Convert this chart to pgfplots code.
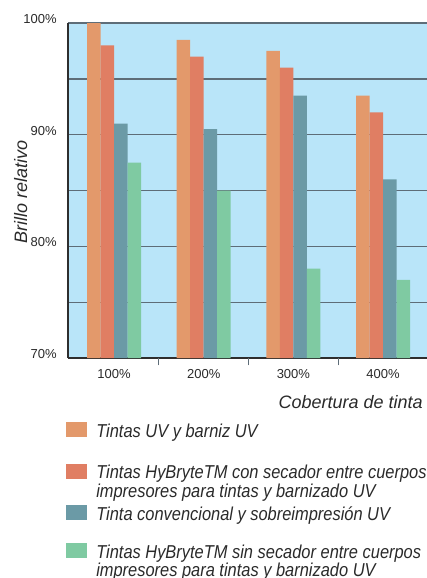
\documentclass[border=0pt]{standalone}
\usepackage{pgfplots}
\pgfplotsset{compat=1.18}
\usepackage{fontspec}
\setmainfont{Liberation Sans}
\newfontfamily\cond[FakeStretch=0.88]{Liberation Sans}
\definecolor{bg}{HTML}{B9E5F9}
\definecolor{cO}{HTML}{E3996B}
\definecolor{cR}{HTML}{E07E63}
\definecolor{cT}{HTML}{6B9AA6}
\definecolor{cG}{HTML}{7FCAA2}
\definecolor{gridc}{HTML}{5E6D78}
\definecolor{axc}{HTML}{2E2E2E}
\definecolor{txt}{HTML}{2A2A2A}
\begin{document}
\begin{tikzpicture}[x=0.75pt,y=-0.75pt]
\begin{axis}[
  at={(51pt,-268.5pt)}, anchor=south west,
  scale only axis, width=269.25pt, height=251.25pt,
  xmin=-0.513, xmax=3.49, ymin=70, ymax=100,
  axis x line=bottom, axis y line=left,
  axis line style={-, axc, line width=1.5pt},
  axis background/.style={fill=bg},
  ytick={70,75,...,100},
  yticklabels={70\%,,80\%,,90\%,,100\%},
  ymajorgrids, grid style={gridc, line width=1pt},
  major tick length=0pt,
  xtick={0,1,2,3},
  xticklabels={100\%,200\%,300\%,400\%},
  extra x ticks={0.5,1.5,2.5},
  extra x tick labels={},
  extra x tick style={tick align=outside, major tick length=5.5pt,
     tick style={gridc, line width=0.9pt}, xmajorgrids=false, ymajorgrids=false},
  ticklabel style={font=\fontsize{9.75}{10}\selectfont, text=txt},
  /pgf/number format/assume math mode=true,
  yticklabel style={anchor=east, xshift=-5pt, yshift=3pt},
  xticklabel style={yshift=-5pt},
  ybar=0pt, bar width=10.125pt,
  clip=true,
]
\addplot[fill=cO, draw=none] coordinates {(0,100) (1,98.5) (2,97.5) (3,93.5)};
\addplot[fill=cR, draw=none] coordinates {(0,98) (1,97) (2,96) (3,92)};
\addplot[fill=cT, draw=none] coordinates {(0,91) (1,90.5) (2,93.5) (3,86)};
\addplot[fill=cG, draw=none] coordinates {(0,87.5) (1,85) (2,78) (3,77)};
\end{axis}
% axis labels
\node[rotate=90, anchor=base, inner sep=0pt, text=txt, font=\fontsize{13.5}{14}\selectfont\itshape] at (27,192) {Brillo relativo};
\node[anchor=base east, inner sep=0pt, text=txt, font=\fontsize{13.5}{14}\selectfont\itshape] at (423,408) {Cobertura de tinta};
% legend
\fill[cO] (66,422) rectangle (87,437);
\fill[cR] (66,464) rectangle (87,479);
\fill[cT] (66,505) rectangle (87,520);
\fill[cG] (66,543) rectangle (87,558);
\begin{scope}[every node/.style={anchor=base west, inner sep=0pt, text=txt, font=\fontsize{14}{14}\cond\itshape}]
\node at (96,437) {Tintas UV y barniz UV};
\node at (96,478) {Tintas HyBryteTM con secador entre cuerpos};
\node at (96,497) {impresores para tintas y barnizado UV};
\node at (96,520) {Tinta convencional y sobreimpresión UV};
\node at (96,558) {Tintas HyBryteTM sin secador entre cuerpos};
\node at (96,576) {impresores para tintas y barnizado UV};
\end{scope}
\pgfresetboundingbox
\useasboundingbox (0,0) rectangle (427,578);
\end{tikzpicture}
\end{document}
